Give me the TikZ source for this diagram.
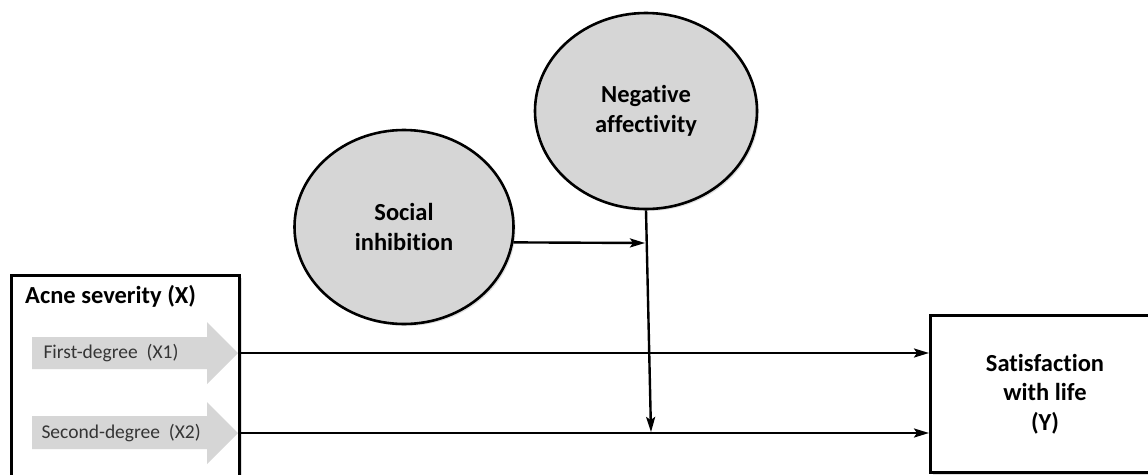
\documentclass[tikz,border=0pt]{standalone}
\usepackage{fontspec}
\setmainfont[Ligatures={NoCommon}]{Carlito}
\usetikzlibrary{arrows.meta,shapes.geometric,shadows}
\definecolor{shapegray}{HTML}{D6D6D6}
\definecolor{labelgray}{HTML}{353535}
\begin{document}
\begin{tikzpicture}[x=1pt,y=-1pt,
  conn/.style={line width=2.4pt,-{Stealth[length=15pt,width=9pt,inset=3pt]}},
  softshadow/.style={drop shadow={opacity=0.25,shadow xshift=2pt,shadow yshift=-2pt}},
  latent/.style={ellipse,draw,line width=2.6pt,fill=shapegray,inner sep=0pt,softshadow},
  boxnode/.style={draw,line width=3pt,fill=white,inner sep=0pt,softshadow},
  boldtext/.style={font=\fontsize{24.5}{29.5}\selectfont\bfseries,align=center,text=black},
  smalltext/.style={font=\fontsize{19.5}{23}\selectfont,text=labelgray,anchor=west},
  grayarrow/.style={fill=shapegray}
]
\useasboundingbox (0,0) rectangle (1148,474);
\clip (0,0) rectangle (1148,474);

% Acne severity box
\node[boxnode,minimum width=228pt,minimum height=230pt,anchor=north west] (X) at (10,274) {};
\node[boldtext,anchor=base west,inner sep=0pt] (Xt) at (25,303) {Acne severity (X)};

% gray block arrows
\fill[grayarrow] (32,337) -- (207,337) -- (207,322) -- (238,353) -- (207,384) -- (207,369) -- (32,369) -- cycle;
\coordinate (t1) at (238,353);
\node[smalltext] (x1) at (40,353) {First-degree\ \ (X1)};

\fill[grayarrow] (32,416) -- (207,416) -- (207,402) -- (238,433) -- (207,464) -- (207,449) -- (32,449) -- cycle;
\coordinate (t2) at (238,433);
\node[smalltext] (x2) at (38,433) {Second-degree\ \ (X2)};

% outcome box
\node[boxnode,boldtext,minimum width=229pt,minimum height=157pt,anchor=north west] (Y) at (929,314) {Satisfaction\\with life\\(Y)};

% latent variables
\node[latent,boldtext,minimum width=219pt,minimum height=194pt] (SI) at (404,227) {Social\\inhibition};
\node[latent,boldtext,minimum width=222pt,minimum height=196pt] (NA) at (646,111) {Negative\\affectivity};

% connectors
\draw[conn] (t1) -- (t1 -| Y.west);
\draw[conn] (t2) -- (t2 -| Y.west);
\coordinate (m) at (651,432);
\draw[conn] (NA.south) -- (m);
\coordinate (s) at (645,243);
\draw[conn] (SI.-8.3) -- (s);
\end{tikzpicture}
\end{document}
